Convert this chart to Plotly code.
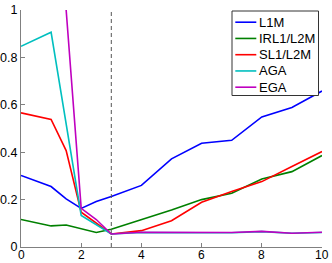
import plotly.graph_objects as go

# Data
x_l1m = [0, 1, 1.5, 2, 2.5, 3, 4, 5, 6, 7, 8, 9, 10]
y_l1m = [0.302, 0.255, 0.203, 0.163, 0.192, 0.213, 0.26, 0.372, 0.438, 0.45, 0.549, 0.589, 0.658]

x_irl = [0, 1, 1.5, 2.5, 3, 4, 5, 6, 7, 8, 9, 10]
y_irl = [0.116, 0.089, 0.093, 0.061, 0.075, 0.114, 0.156, 0.2, 0.227, 0.287, 0.318, 0.386]

x_sl1 = [0, 1, 1.5, 2, 3, 4, 5, 6, 7, 8, 9, 10]
y_sl1 = [0.566, 0.538, 0.407, 0.147, 0.055, 0.069, 0.111, 0.189, 0.234, 0.276, 0.34, 0.403]

x_aga = [0, 1, 2, 3, 4, 5, 6, 7, 8, 9, 10]
y_aga = [0.847, 0.906, 0.133, 0.055, 0.061, 0.062, 0.06, 0.06, 0.065, 0.058, 0.061]

x_ega = [1.5, 2, 2.5, 3, 4, 5, 6, 7, 8, 9, 10]
y_ega = [1.0, 0.163, 0.116, 0.055, 0.062, 0.062, 0.061, 0.061, 0.066, 0.058, 0.062]

names = ["L1M", "IRL1/L2M", "SL1/L2M", "AGA", "EGA"]
colors = ["#0000ff", "#008000", "#ff0000", "#00bfbf", "#bf00bf"]
xs_all = [x_l1m, x_irl, x_sl1, x_aga, x_ega]
ys_all = [y_l1m, y_irl, y_sl1, y_aga, y_ega]

x_ticks = [0, 2, 4, 6, 8, 10]
x_tick_text = ["0", "2", "4", "6", "8", "10"]
y_ticks = [0, 0.2, 0.4, 0.6, 0.8, 1]
y_tick_text = ["0", "0.2", "0.4", "0.6", "0.8", "1"]
split_x = 3

W, H = 332, 263
ML, MR, MT, MB = 21, 10, 10, 16
PW, PH = W - ML - MR, H - MT - MB


def px_x(p):
    return (p - ML) / PW


def px_y(p):
    return (H - MB - p) / PH


fig = go.Figure()
for name, xs, ys, col in zip(names, xs_all, ys_all, colors):
    fig.add_trace(go.Scatter(x=xs, y=ys, mode="lines", name=name,
                             line=dict(color=col, width=1.6), showlegend=False))

fig.add_shape(type="line", x0=split_x, x1=split_x, y0=0, y1=1,
              xref="x", yref="y", line=dict(color="#555555", width=1, dash="4px,3px"))

# x tick labels sitting right under the axis, kept inside the page
for tv, tt in zip(x_ticks, x_tick_text):
    fig.add_annotation(xref="x", yref="paper", x=tv, y=px_y(262.5), text=tt,
                       showarrow=False, xanchor="center", yanchor="bottom",
                       font=dict(size=12, color="black"), borderpad=0)

# Legend box (drawn manually to match the compact MATLAB-style legend)
box_l, box_r, box_t, box_b = 232, 318.5, 11, 95.5
fig.add_shape(type="rect", xref="paper", yref="paper",
              x0=px_x(box_l), x1=px_x(box_r), y0=px_y(box_b), y1=px_y(box_t),
              line=dict(color="#333333", width=1), fillcolor="white", layer="above")
row0, row_step = 22.2, 16.25
for i, (name, col) in enumerate(zip(names, colors)):
    yy = px_y(row0 + i * row_step)
    fig.add_shape(type="line", xref="paper", yref="paper",
                  x0=px_x(235.3), x1=px_x(256.3), y0=yy, y1=yy,
                  line=dict(color=col, width=1.6), layer="above")
    fig.add_annotation(xref="paper", yref="paper", x=px_x(257.5), y=yy,
                       text=name, showarrow=False, xanchor="left", yanchor="middle",
                       font=dict(size=13, color="black"), borderpad=0)

fig.update_layout(
    width=W, height=H,
    margin=dict(l=ML, r=MR, t=MT, b=MB, autoexpand=False),
    paper_bgcolor="white", plot_bgcolor="white",
    font=dict(family="Liberation Sans, Arial, sans-serif", size=12.5, color="black"),
    showlegend=False,
)
fig.update_xaxes(range=[0, 10], tickvals=x_ticks, ticks="inside", ticklen=4,
                 tickcolor="#808080", showline=True, linecolor="#808080",
                 linewidth=1, showgrid=False, zeroline=False, mirror=False,
                 automargin=False, showticklabels=False)
fig.update_yaxes(range=[0, 1], tickvals=y_ticks, ticktext=y_tick_text,
                 ticks="inside", ticklen=4,
                 tickcolor="#808080", showline=True, linecolor="#808080",
                 linewidth=1, showgrid=False, zeroline=False, mirror=False,
                 automargin=False, tickfont=dict(size=12.5))

fig.write_html("out.html",
               config={"displayModeBar": False},
               post_script="document.body.style.margin='0';document.body.style.overflow='hidden';")
